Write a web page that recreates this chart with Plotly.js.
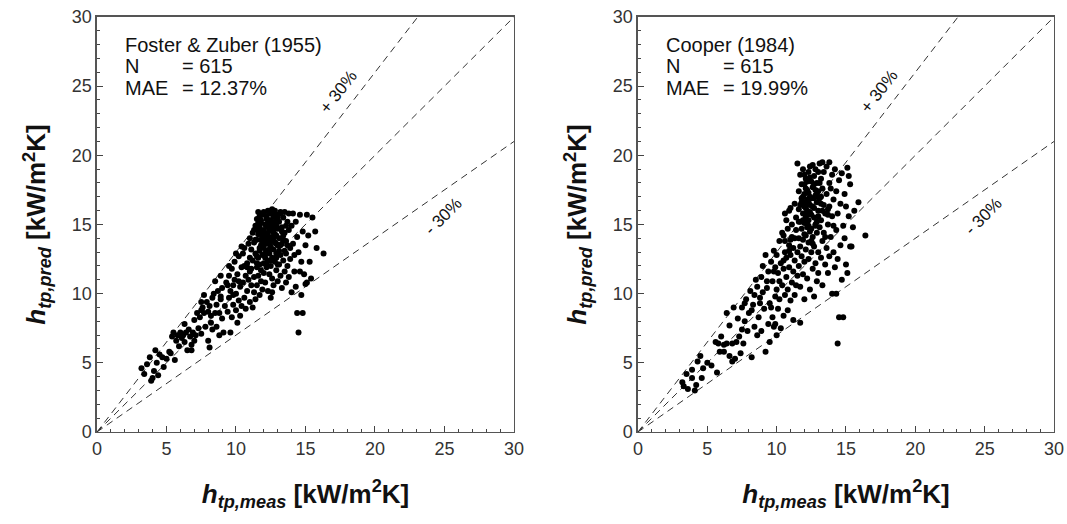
<!DOCTYPE html>
<html>
<head>
<meta charset="utf-8">
<script src="https://cdn.plot.ly/plotly-3.0.1.min.js"></script>
<style>html,body{margin:0;padding:0;background:#fff;}#chart{width:1067px;height:524px;}</style>
</head>
<body>
<div id="chart"></div>
<script>
const fzMeas = [3.2,3.4,3.6,3.8,3.9,4.0,4.1,4.2,4.3,4.5,4.7,4.8,5.0,4.4,
5.2,5.3,5.5,5.6,5.7,5.8,5.9,6.0,6.1,6.2,6.3,6.4,6.5,6.6,6.7,6.8,6.9,7.0,7.0,7.1,6.3,5.4,
7.2,7.3,7.4,7.5,7.5,7.6,7.7,7.8,7.9,8.0,8.0,8.1,8.2,8.3,8.3,8.4,8.5,8.6,8.6,8.7,8.8,8.8,8.9,9.0,9.0,9.1,7.7,8.1,8.5,8.9,
9.2,9.3,9.4,9.5,9.5,9.6,9.6,9.7,9.7,9.8,9.8,9.9,9.9,10.0,10.0,10.1,10.1,10.2,10.2,10.3,10.3,10.4,10.4,10.5,10.5,10.6,10.6,10.7,10.7,10.8,10.8,10.9,10.9,11.0,11.0,11.0,10.4,9.5,10.0,10.6,
11.1,11.1,11.1,11.2,11.2,11.2,11.3,11.3,11.3,11.4,11.4,11.4,11.5,11.5,11.5,11.5,11.6,11.6,11.6,11.6,11.7,11.7,11.7,11.7,11.8,11.8,11.8,11.8,11.9,11.9,11.9,11.9,12.0,12.0,12.0,12.0,11.3,11.5,11.7,11.9,
12.1,12.1,12.1,12.1,12.2,12.2,12.2,12.2,12.3,12.3,12.3,12.3,12.3,12.4,12.4,12.4,12.4,12.5,12.5,12.5,12.5,12.5,12.6,12.6,12.6,12.6,12.7,12.7,12.7,12.7,12.8,12.8,12.8,12.8,12.9,12.9,12.9,12.9,13.0,13.0,13.0,13.0,12.2,12.4,12.6,12.8,12.3,12.5,12.7,12.9,12.2,12.6,
13.1,13.1,13.1,13.2,13.2,13.2,13.3,13.3,13.3,13.4,13.4,13.4,13.5,13.5,13.5,13.6,13.6,13.6,13.7,13.7,13.8,13.8,13.8,13.9,13.9,14.0,14.0,13.2,13.4,13.6,
14.1,14.1,14.2,14.2,14.3,14.3,14.4,14.4,14.5,14.5,14.6,14.6,14.7,14.7,14.8,14.8,15.0,15.0,15.1,15.1,15.3,15.4,15.5,15.7,15.8,16.3,15.2,14.9,
11.4,11.6,11.8,12.0,12.2,12.4,12.6,12.8,13.0,13.2,11.5,11.7,11.9,12.1,12.3,12.5,12.7,12.9,13.1,13.3,11.6,11.8,12.0,12.2,12.4,12.6,12.8,13.0,12.3,12.5,12.7,12.1,12.9,13.5,13.7,11.0,10.8,10.2,9.8,9.4,8.9,8.2,7.5,6.8];
const fzPred = [4.6,4.2,4.9,5.4,3.7,3.9,4.4,5.9,5.0,5.6,5.4,4.7,5.3,4.1,
5.8,5.7,7.2,5.2,6.6,7.0,6.2,7.2,6.8,7.0,6.5,7.2,5.9,7.4,6.9,5.9,7.2,6.6,8.1,7.0,7.8,6.9,
8.6,7.5,8.3,8.8,7.1,9.0,8.6,7.6,9.4,8.7,6.6,6.1,8.4,9.7,7.4,10.0,8.6,7.6,9.2,10.2,8.6,7.0,9.6,10.4,8.2,7.2,9.9,9.1,10.9,11.3,
9.1,10.8,8.7,11.3,9.7,7.2,10.2,11.8,8.3,9.2,10.6,11.0,12.3,8.8,10.0,7.9,11.4,9.5,12.7,10.5,8.4,11.9,9.1,12.9,10.8,13.3,9.7,11.3,8.9,12.2,10.2,13.6,11.0,9.4,12.6,14.0,13.4,12.0,12.9,12.0,
10.6,13.2,11.8,9.0,14.4,12.4,10.1,13.7,11.2,14.9,12.9,9.6,11.9,13.9,15.4,10.6,12.6,14.3,15.9,11.3,13.1,9.9,14.8,12.1,15.3,13.5,10.9,11.7,14.1,12.8,15.7,10.3,13.3,14.6,11.5,12.2,14.6,12.7,15.6,13.7,
15.0,13.8,12.6,10.8,14.3,15.6,13.1,11.9,14.8,16.0,12.4,13.6,10.2,15.3,14.1,11.4,12.9,15.8,13.4,14.6,12.0,9.7,15.1,13.9,11.1,12.6,14.4,15.6,13.2,10.6,14.9,12.3,13.7,16.0,15.3,11.7,14.2,12.9,13.5,15.7,10.9,14.7,14.9,13.7,14.8,15.2,14.4,14.0,13.8,13.6,12.2,10.1,
12.1,14.0,15.2,12.8,15.9,11.3,13.6,14.8,10.4,12.4,15.5,13.9,11.6,14.4,15.9,12.9,10.8,13.8,15.2,12.0,14.6,11.2,15.8,13.3,12.5,14.9,10.1,13.5,14.2,14.9,
13.6,15.8,11.6,12.8,15.2,10.5,14.1,8.6,13.0,7.2,11.6,15.7,12.3,9.9,8.6,14.5,10.7,13.5,15.7,10.8,12.3,11.1,15.5,14.5,13.3,12.9,14.2,11.4,
13.9,14.6,15.1,15.8,15.4,15.9,16.0,15.7,15.5,15.8,12.2,13.3,14.4,12.9,15.1,12.4,14.1,12.6,13.1,14.5,15.1,13.9,15.9,14.0,13.2,16.1,14.3,12.1,13.9,15.3,14.7,13.6,14.9,13.1,13.5,11.6,11.9,10.9,9.9,10.6,9.8,7.9,9.4,6.3];

// ---- Cooper (1984) ----
const coMeas = [3.2,3.6,4.1,3.9,3.9,4.3,4.7,3.5,4.2,4.5,5.0,5.3,3.3,4.6,
5.6,5.7,5.9,6.2,6.0,6.4,6.6,6.8,6.8,7.0,7.1,7.4,7.5,7.6,7.2,6.4,6.9,7.3,7.7,7.9,6.2,5.8,7.8,7.5,6.6,
8.0,8.1,8.2,8.3,8.4,8.5,8.6,8.6,8.7,8.8,8.9,8.9,9.0,9.1,9.2,9.2,9.3,9.4,9.4,9.5,9.5,9.6,9.7,9.7,9.8,9.8,9.9,9.9,10.0,10.0,10.0,9.9,8.4,9.0,9.6,
10.1,10.1,10.2,10.2,10.3,10.3,10.4,10.4,10.5,10.5,10.5,10.6,10.6,10.6,10.7,10.7,10.7,10.8,10.8,10.8,10.9,10.9,11.0,11.0,11.0,11.1,11.1,11.1,11.2,11.2,11.2,11.3,11.3,11.3,11.4,11.4,11.4,11.5,11.5,11.5,10.9,10.6,
11.6,11.6,11.6,11.6,11.7,11.7,11.7,11.7,11.7,11.8,11.8,11.8,11.8,11.9,11.9,11.9,11.9,12.0,12.0,12.0,12.0,12.0,12.1,12.1,12.1,12.1,12.2,12.2,12.2,12.2,12.3,12.3,12.3,12.3,12.4,12.4,12.4,12.4,12.5,12.5,12.5,12.5,12.0,12.2,12.4,11.9,12.1,12.3,
12.6,12.6,12.6,12.6,12.7,12.7,12.7,12.7,12.8,12.8,12.8,12.8,12.9,12.9,12.9,12.9,13.0,13.0,13.0,13.0,13.1,13.1,13.1,13.2,13.2,13.2,13.3,13.3,13.3,13.3,13.4,13.4,13.4,13.5,13.5,12.7,13.0,13.2,
13.6,13.6,13.6,13.7,13.7,13.8,13.8,13.8,13.8,13.9,13.9,14.0,14.0,14.0,14.1,14.1,14.2,14.2,14.3,14.3,14.3,14.4,14.4,14.4,14.5,14.5,14.1,13.7,
14.6,14.6,14.7,14.7,14.8,14.8,14.9,15.0,15.1,15.1,15.2,15.2,15.3,15.3,15.4,15.5,15.6,15.9,16.4,15.0,14.9,
11.8,12.0,12.2,12.4,12.6,12.8,13.0,13.2,11.9,12.1,12.3,12.5,12.7,12.9,13.1,13.3,12.0,12.2,12.4,12.6,12.8,12.1,12.3,12.5,12.7,11.7,11.6,13.5,13.7,10.9,10.5,10.2,9.8,9.3,8.8,8.2,7.7,11.3,11.0,12.9];
const coPred = [3.6,3.1,3.0,3.9,4.5,5.1,4.6,4.2,3.4,5.5,5.0,4.8,3.3,3.9,
6.5,4.3,5.8,5.8,6.9,6.4,7.7,6.4,5.1,5.3,6.5,5.7,7.4,6.4,8.2,8.6,9.0,6.9,8.0,7.3,6.3,6.4,9.6,9.0,5.5,
8.6,10.2,5.4,9.2,7.6,11.0,7.0,10.5,8.3,9.7,11.2,7.3,12.0,8.9,5.8,12.8,10.4,7.8,11.6,6.5,9.3,12.3,10.9,8.3,13.1,7.6,9.8,11.9,7.0,12.8,10.3,7.8,9.9,10.1,9.0,
8.9,11.5,13.8,9.6,12.2,7.5,10.6,14.4,14.2,11.8,8.4,15.8,13.0,9.9,15.3,11.2,12.6,10.3,14.7,8.8,13.5,11.9,16.2,9.5,12.8,15.0,10.8,14.1,11.6,13.3,8.1,16.5,12.4,9.9,14.6,10.6,15.5,19.4,13.0,11.3,16.0,13.8,
17.4,14.0,12.0,16.1,18.6,15.2,10.5,13.4,7.9,17.9,16.6,12.7,14.7,19.0,15.8,11.4,13.9,17.2,16.3,14.3,12.3,9.6,18.3,15.5,13.2,17.6,16.8,14.8,11.1,16.0,18.8,15.3,13.7,12.5,17.0,16.4,14.5,10.3,18.1,15.7,13.0,16.9,15.1,17.5,15.9,17.0,16.2,16.6,
19.3,17.7,14.1,11.8,16.2,18.5,13.4,9.8,15.0,17.1,12.2,19.0,16.6,14.4,10.9,18.0,15.6,13.0,17.4,11.5,19.4,14.8,16.9,18.3,12.6,15.3,19.5,17.6,13.8,10.6,16.4,14.4,18.8,12.1,15.8,15.5,16.0,17.0,
17.2,13.3,19.2,15.0,11.5,18.0,16.3,19.5,12.7,14.1,17.6,10.0,15.6,18.6,13.0,16.8,11.9,19.0,14.6,17.4,10.0,15.8,12.5,6.4,8.3,18.2,14.9,16.1,
16.5,13.5,11.0,18.7,8.3,14.9,17.2,12.1,19.1,11.5,18.5,15.6,17.9,13.4,13.4,14.8,16.0,16.6,14.2,16.3,14.0,
16.9,17.9,18.1,18.4,16.3,17.5,18.8,16.5,15.3,16.6,17.3,14.7,17.9,15.2,18.0,16.0,18.6,15.7,19.2,13.6,14.9,14.2,14.9,13.8,16.9,16.4,15.2,14.1,15.7,13.1,12.4,10.9,11.6,10.9,9.3,8.8,9.3,14.0,13.9,17.2];

// reference lines
const refX = [0, 30];
const ratios = [1.0, 1.3, 0.7];
const tickVals = [0, 5, 10, 15, 20, 25, 30];

const traces = [];
function addPanel(xs, ys, xa, ya) {
  ratios.forEach(r => {
    traces.push({x: refX, y: refX.map(v => v * r), xaxis: xa, yaxis: ya, mode: 'lines',
      line: {color: '#333', width: 1, dash: '7px,5px'}, hoverinfo: 'skip', showlegend: false});
  });
  traces.push({x: xs, y: ys, xaxis: xa, yaxis: ya, mode: 'markers', type: 'scatter',
    marker: {color: '#000', size: 6}, showlegend: false});
}
addPanel(fzMeas, fzPred, 'x', 'y');
addPanel(coMeas, coPred, 'x2', 'y2');

const fam = 'Liberation Sans, Arial, sans-serif';
const xTitle = '<b><i>h</i><sub><i>tp,meas</i></sub> [kW/m<sup>2</sup>K]</b>';
const yTitle = '<b><i>h</i><sub><i>tp,pred</i></sub> [kW/m<sup>2</sup>K]</b>';

function axis(domain, title, anchor, standoff) {
  return {
    domain: domain, range: [0, 30], anchor: anchor,
    tickvals: tickVals, ticks: 'inside', ticklen: 6, tickwidth: 1, tickcolor: '#444',
    minor: {dtick: 1, ticks: 'inside', ticklen: 3, tickcolor: '#444'},
    showline: true, linecolor: '#555', linewidth: 1.5, mirror: true,
    showgrid: false, zeroline: false,
    tickfont: {family: fam, size: 18, color: '#333'},
    title: {text: title, font: {family: fam, size: 26, color: '#111'}, standoff: standoff},
    fixedrange: true
  };
}

const layout = {
  width: 1067, height: 524,
  margin: {l: 0, r: 0, t: 0, b: 0},
  paper_bgcolor: '#fff', plot_bgcolor: '#fff',
  xaxis: axis([0.0909, 0.4817], xTitle, 'y', 26),
  yaxis: axis([0.1756, 0.9676], yTitle, 'x', 18),
  xaxis2: axis([0.5979, 0.9878], xTitle, 'y2', 26),
  yaxis2: axis([0.1756, 0.9676], yTitle, 'x2', 18),
  annotations: [],
  showlegend: false
};

function panelText(xref, yref, name, mae) {
  const f = {family: fam, size: 20, color: '#111'};
  const items = [
    [1.9, 28.0, name], [1.9, 26.45, 'N'], [6.0, 26.45, '= 615'],
    [1.9, 24.85, 'MAE'], [6.0, 24.85, '= ' + mae]
  ];
  items.forEach(it => layout.annotations.push({xref: xref, yref: yref, x: it[0], y: it[1], text: it[2],
    showarrow: false, xanchor: 'left', yanchor: 'middle', font: f}));
  const lf = {family: fam, size: 17, color: '#111'};
  layout.annotations.push({xref: xref, yref: yref, x: 17.4, y: 24.6, text: '+ 30%', textangle: -52,
    showarrow: false, font: lf});
  layout.annotations.push({xref: xref, yref: yref, x: 24.9, y: 15.6, text: '- 30%', textangle: -45,
    showarrow: false, font: lf});
}
panelText('x', 'y', 'Foster &amp; Zuber (1955)', '12.37%');
panelText('x2', 'y2', 'Cooper (1984)', '19.99%');

Plotly.newPlot('chart', traces, layout, {staticPlot: true, displayModeBar: false});
</script>
</body>
</html>
